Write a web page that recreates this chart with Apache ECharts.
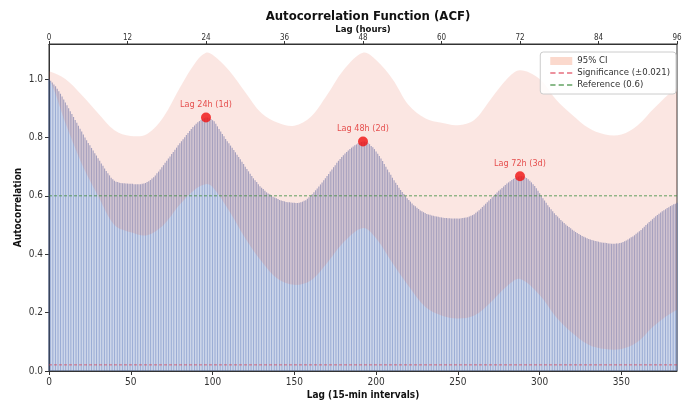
<!DOCTYPE html>
<html><head><meta charset="utf-8">
<script src="https://cdn.jsdelivr.net/npm/echarts@6/dist/echarts.min.js"></script>
<style>html,body{margin:0;padding:0;background:#fff}#c{width:688px;height:400px}</style>
</head><body><div id="c"></div>
<script>
// ACF value for each lag 0..384 (15-min intervals)
const acfValues = [
1.000,0.994,0.988,0.981,0.975,0.967,0.958,0.950,0.940,0.930,
0.920,0.910,0.900,0.890,0.880,0.870,0.860,0.850,0.840,0.830,
0.820,0.810,0.800,0.790,0.781,0.773,0.764,0.755,0.746,0.738,
0.729,0.720,0.711,0.703,0.694,0.685,0.677,0.670,0.662,0.657,
0.652,0.648,0.647,0.645,0.644,0.643,0.643,0.642,0.642,0.641,
0.641,0.641,0.640,0.640,0.640,0.640,0.640,0.641,0.642,0.644,
0.647,0.650,0.654,0.659,0.664,0.670,0.677,0.683,0.690,0.698,
0.705,0.713,0.720,0.728,0.735,0.743,0.750,0.758,0.765,0.773,
0.780,0.787,0.794,0.801,0.808,0.815,0.822,0.829,0.836,0.841,
0.847,0.852,0.856,0.860,0.864,0.866,0.868,0.868,0.866,0.863,
0.859,0.855,0.847,0.838,0.829,0.820,0.812,0.804,0.795,0.787,
0.780,0.772,0.765,0.757,0.749,0.741,0.733,0.725,0.717,0.709,
0.700,0.692,0.684,0.676,0.668,0.660,0.653,0.647,0.640,0.633,
0.628,0.623,0.617,0.612,0.608,0.605,0.601,0.597,0.594,0.592,
0.589,0.586,0.584,0.582,0.581,0.579,0.578,0.578,0.577,0.576,
0.576,0.575,0.575,0.576,0.578,0.580,0.583,0.585,0.590,0.595,
0.600,0.605,0.612,0.619,0.625,0.632,0.639,0.646,0.653,0.660,
0.668,0.675,0.683,0.690,0.698,0.705,0.713,0.720,0.726,0.733,
0.739,0.745,0.750,0.755,0.760,0.765,0.769,0.773,0.776,0.780,
0.782,0.784,0.786,0.786,0.784,0.782,0.777,0.771,0.766,0.760,
0.752,0.744,0.736,0.728,0.719,0.709,0.700,0.690,0.681,0.672,
0.662,0.653,0.645,0.637,0.628,0.620,0.613,0.606,0.599,0.592,
0.586,0.580,0.574,0.568,0.564,0.559,0.555,0.550,0.547,0.544,
0.541,0.538,0.536,0.535,0.533,0.532,0.530,0.529,0.528,0.527,
0.526,0.525,0.524,0.524,0.523,0.523,0.522,0.522,0.522,0.522,
0.522,0.522,0.523,0.524,0.525,0.526,0.527,0.529,0.532,0.534,
0.537,0.542,0.546,0.551,0.556,0.562,0.567,0.573,0.578,0.584,
0.589,0.595,0.600,0.606,0.611,0.617,0.622,0.627,0.632,0.637,
0.642,0.646,0.650,0.654,0.658,0.661,0.664,0.666,0.667,0.667,
0.666,0.664,0.661,0.657,0.652,0.646,0.640,0.634,0.626,0.617,
0.609,0.600,0.592,0.584,0.576,0.568,0.561,0.554,0.547,0.540,
0.534,0.529,0.523,0.517,0.512,0.507,0.502,0.497,0.493,0.489,
0.484,0.480,0.476,0.473,0.469,0.466,0.462,0.460,0.457,0.455,
0.452,0.450,0.449,0.447,0.445,0.444,0.443,0.441,0.440,0.439,
0.439,0.438,0.437,0.437,0.436,0.436,0.436,0.437,0.437,0.438,
0.439,0.442,0.444,0.447,0.450,0.454,0.458,0.461,0.465,0.470,
0.474,0.479,0.483,0.489,0.494,0.500,0.505,0.510,0.515,0.520,
0.525,0.530,0.534,0.539,0.543,0.547,0.551,0.554,0.558,0.561,
0.565,0.568,0.571,0.573,0.576
];
// 95% confidence band, read at sample lags
const ciLags  = [0,10,20,30,40,50,60,70,80,90,96,100,110,120,130,140,150,160,170,180,192,200,210,220,230,240,250,260,270,280,288,300,310,320,330,340,350,360,370,384];
const ciUpper = [1.027,1.00,0.945,0.883,0.825,0.805,0.812,0.87,0.97,1.06,1.09,1.083,1.03,0.955,0.883,0.85,0.84,0.87,0.945,1.03,1.09,1.065,1.0,0.91,0.866,0.85,0.842,0.86,0.93,1.0,1.03,1.0,0.93,0.877,0.832,0.81,0.81,0.842,0.90,0.97];
const ciLower = [1.0,0.85,0.71,0.60,0.50,0.475,0.465,0.50,0.57,0.625,0.64,0.63,0.55,0.455,0.375,0.315,0.295,0.31,0.37,0.44,0.49,0.455,0.37,0.29,0.22,0.19,0.18,0.19,0.235,0.29,0.315,0.26,0.185,0.13,0.09,0.075,0.075,0.10,0.155,0.21];
// highlighted daily peaks
const peakLags   = [96,192,288];
const peakValues = [0.868,0.786,0.667];
const peakLabels = ['Lag 24h (1d)','Lag 48h (2d)','Lag 72h (3d)'];
const significanceLevel = 0.021;
const referenceLevel = 0.6;
const lagMax = 384;
const hoursMax = 96;

const FONT = "'DejaVu Sans Condensed','DejaVu Sans',sans-serif";
const DASH_ICON = 'path://M0,0h5v1.3h-5zM8,0h5v1.3h-5zM16,0h5v1.3h-5z';
const chart = echarts.init(document.getElementById('c'), null, {renderer:'canvas'});
chart.setOption({
  animation:false,
  backgroundColor:'#fff',
  textStyle:{fontFamily:FONT},
  title:{text:'Autocorrelation Function (ACF)', left:363, textAlign:'center', top:5,
    textStyle:{fontFamily:FONT, fontWeight:'bold', fontSize:13, color:'#111'}},
  legend:{
    orient:'vertical', right:12, top:52, itemWidth:22, itemHeight:8, itemGap:2,
    padding:[4,6,4,10], borderColor:'#ccc', borderWidth:1, borderRadius:3,
    backgroundColor:'rgba(255,255,255,0.85)', symbolKeepAspect:true,
    textStyle:{fontFamily:FONT, fontSize:9.5, color:'#333'},
    data:[{name:'95% CI', icon:'rect'}, {name:'Significance (±0.021)', icon:DASH_ICON}, {name:'Reference (0.6)', icon:DASH_ICON}]
  },
  grid:{left:49, right:11, top:44, bottom:29, outerBoundsMode:'none', containLabel:false,
        show:true, borderColor:'#333', borderWidth:1, backgroundColor:'transparent'},
  xAxis:[
    {type:'value', position:'bottom', min:0, max:lagMax, interval:50,
     axisLine:{show:true, lineStyle:{color:'#333'}}, axisTick:{show:true, length:4, lineStyle:{color:'#333'}},
     axisLabel:{fontFamily:FONT, fontSize:10, color:'#333', margin:6, showMaxLabel:false},
     splitLine:{show:false},
     name:'Lag (15-min intervals)', nameLocation:'middle', nameGap:19, nameMoveOverlap:false,
     nameTextStyle:{fontFamily:FONT, fontWeight:'bold', fontSize:10, color:'#111'}},
    {type:'value', position:'top', min:0, max:hoursMax, interval:12,
     axisLine:{show:true, lineStyle:{color:'#333'}}, axisTick:{show:true, length:3, lineStyle:{color:'#333'}},
     axisLabel:{fontFamily:FONT, fontSize:8, color:'#333', margin:2},
     splitLine:{show:false},
     name:'Lag (hours)', nameLocation:'middle', nameGap:9, nameMoveOverlap:false,
     nameTextStyle:{fontFamily:FONT, fontWeight:'bold', fontSize:9.5, color:'#111'}}
  ],
  yAxis:{type:'value', min:0, max:1.12, interval:0.2,
     axisLine:{show:true, lineStyle:{color:'#333'}}, axisTick:{show:true, length:4, lineStyle:{color:'#333'}},
     axisLabel:{fontFamily:FONT, fontSize:10, color:'#333', margin:6, showMaxLabel:false, formatter:v=>v.toFixed(1)},
     splitLine:{show:false},
     name:'Autocorrelation', nameLocation:'middle', nameGap:26, nameMoveOverlap:false,
     nameTextStyle:{fontFamily:FONT, fontWeight:'bold', fontSize:10, color:'#111'}},
  series:[
    {type:'bar', xAxisIndex:0, data:acfValues.map((v,i)=>[i,v]), barWidth:1.15,
     itemStyle:{color:'rgba(72,106,178,0.55)'}, z:2, silent:true},
    {name:'95% CI', type:'custom', xAxisIndex:0, clip:true, z:3, silent:true,
     itemStyle:{color:'rgba(245,160,130,0.4)'},
     data:ciLags.map((x,i)=>[x,ciLower[i],ciUpper[i]]),
     encode:{x:0, y:[1,2]},
     renderItem:function(params, api){
       if (params.dataIndex !== 0) return null;
       const up = [], lo = [];
       for (let i=0;i<ciLags.length;i++){
         up.push(api.coord([ciLags[i], ciUpper[i]]));
         lo.push(api.coord([ciLags[i], ciLower[i]]));
       }
       const n = up.length;
       const pts = [[up[0][0]-8, up[0][1]]].concat(up, [[up[n-1][0]+8, up[n-1][1]], [lo[n-1][0]+8, lo[n-1][1]]]);
       for (let i=n-1;i>=0;i--) pts.push(lo[i]);
       pts.push([lo[0][0]-8, lo[0][1]]);
       const cs = params.coordSys;
       return {type:'group',
         clipPath:{type:'rect', shape:{x:cs.x, y:cs.y, width:cs.width, height:cs.height}},
         children:[{type:'polygon', shape:{points:pts, smooth:0.35},
                    style:{fill:'rgba(228,95,70,0.155)'}}]};
     }},
    {name:'Significance (±0.021)', type:'line', xAxisIndex:0, data:[[0,significanceLevel],[lagMax,significanceLevel]],
     symbol:'none', lineStyle:{color:'rgba(220,60,80,0.7)', width:1, type:[3,2]}, itemStyle:{color:'rgba(220,60,80,0.75)'}, z:4},
    {name:'Reference (0.6)', type:'line', xAxisIndex:0, data:[[0,referenceLevel],[lagMax,referenceLevel]],
     symbol:'none', lineStyle:{color:'rgba(60,140,60,0.8)', width:1, type:[3,2]}, itemStyle:{color:'rgba(60,140,60,0.8)'}, z:4},
    {type:'scatter', xAxisIndex:0, data:peakLags.map((x,i)=>({value:[x,peakValues[i]], name:peakLabels[i]})),
     symbolSize:10, itemStyle:{color:'#f01010'}, z:6,
     label:{show:true, position:'top', distance:3, formatter:'{b}', fontFamily:FONT, fontSize:9, color:'#e02828'}}
  ]
});
</script>
</body></html>
